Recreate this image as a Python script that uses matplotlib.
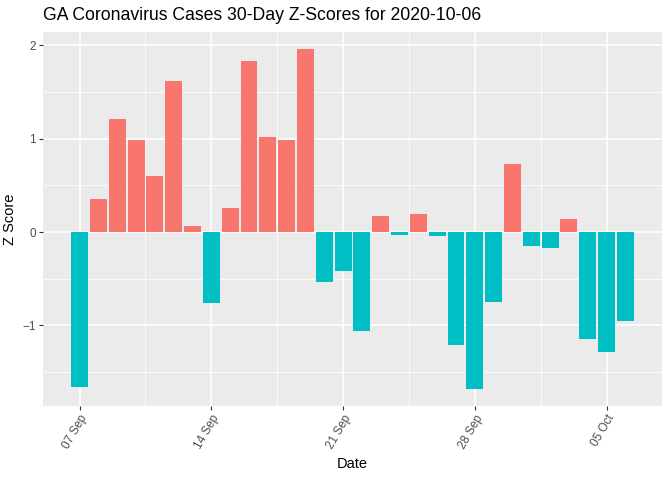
import datetime as dt
import matplotlib
matplotlib.use("Agg")
import matplotlib.pyplot as plt
import matplotlib.dates as mdates

plt.rcParams["font.family"] = ["Liberation Sans", "DejaVu Sans"]

start = dt.date(2020, 9, 7)
dates = [start + dt.timedelta(days=i) for i in range(30)]
zscores = [-1.66, 0.35, 1.21, 0.99, 0.60, 1.62, 0.06, -0.76, 0.26, 1.83,
           1.02, 0.99, 1.96, -0.53, -0.42, -1.06, 0.17, -0.03, 0.19, -0.04,
           -1.21, -1.68, -0.75, 0.73, -0.15, -0.17, 0.14, -1.15, -1.28, -0.95]
major_dates = [dt.date(2020, 9, 7), dt.date(2020, 9, 14), dt.date(2020, 9, 21),
               dt.date(2020, 9, 28), dt.date(2020, 10, 5)]
y_ticks = [-1, 0, 1, 2]
y_minor = [-1.5, -0.5, 0.5, 1.5]

colors = ["#F8766D" if z > 0 else "#00BFC4" for z in zscores]

fig = plt.figure(figsize=(6.72, 4.8), dpi=100)
ax = fig.add_axes([43 / 672, 74 / 480, 619 / 672, 374 / 480])
ax.set_facecolor("#EBEBEB")

xnum = mdates.date2num(dates)
ax.bar(xnum, zscores, width=0.9, color=colors, zorder=3)

span = xnum[-1] + 0.45 - (xnum[0] - 0.45)
ax.set_xlim(xnum[0] - 0.45 - 0.05 * span, xnum[-1] + 0.45 + 0.05 * span)
yr = max(zscores) - min(zscores)
ax.set_ylim(min(zscores) - 0.05 * yr, max(zscores) + 0.05 * yr)

majors = mdates.date2num(major_dates)
ax.set_xticks(majors)
ax.set_xticks([m + 3.5 for m in majors[:-1]], minor=True)
ax.xaxis.set_major_formatter(mdates.DateFormatter("%d %b"))
ax.set_yticks(y_ticks)
ax.set_yticks(y_minor, minor=True)

ax.grid(which="major", color="white", linewidth=1.1, zorder=0)
ax.grid(which="minor", color="white", linewidth=0.55, zorder=0)
ax.set_axisbelow(True)
for s in ax.spines.values():
    s.set_visible(False)

ax.tick_params(which="major", length=3, width=0.8, color="#333333",
               labelcolor="#4D4D4D", labelsize=8.5, pad=2)
ax.tick_params(which="minor", length=0)
for lab in ax.get_xticklabels():
    lab.set_rotation(60)
    lab.set_ha("right")
    lab.set_va("top")
    lab.set_rotation_mode("anchor")

ax.set_xlabel("Date", fontsize=10.5, color="black", labelpad=4)
ax.set_ylabel("Z Score", fontsize=10.5, color="black", labelpad=4)
fig.text(43 / 672, 1 - 15 / 480, "GA Coronavirus Cases 30-Day Z-Scores for 2020-10-06",
         fontsize=12.7, ha="left", va="center")

fig.savefig("out.png", dpi=100)
